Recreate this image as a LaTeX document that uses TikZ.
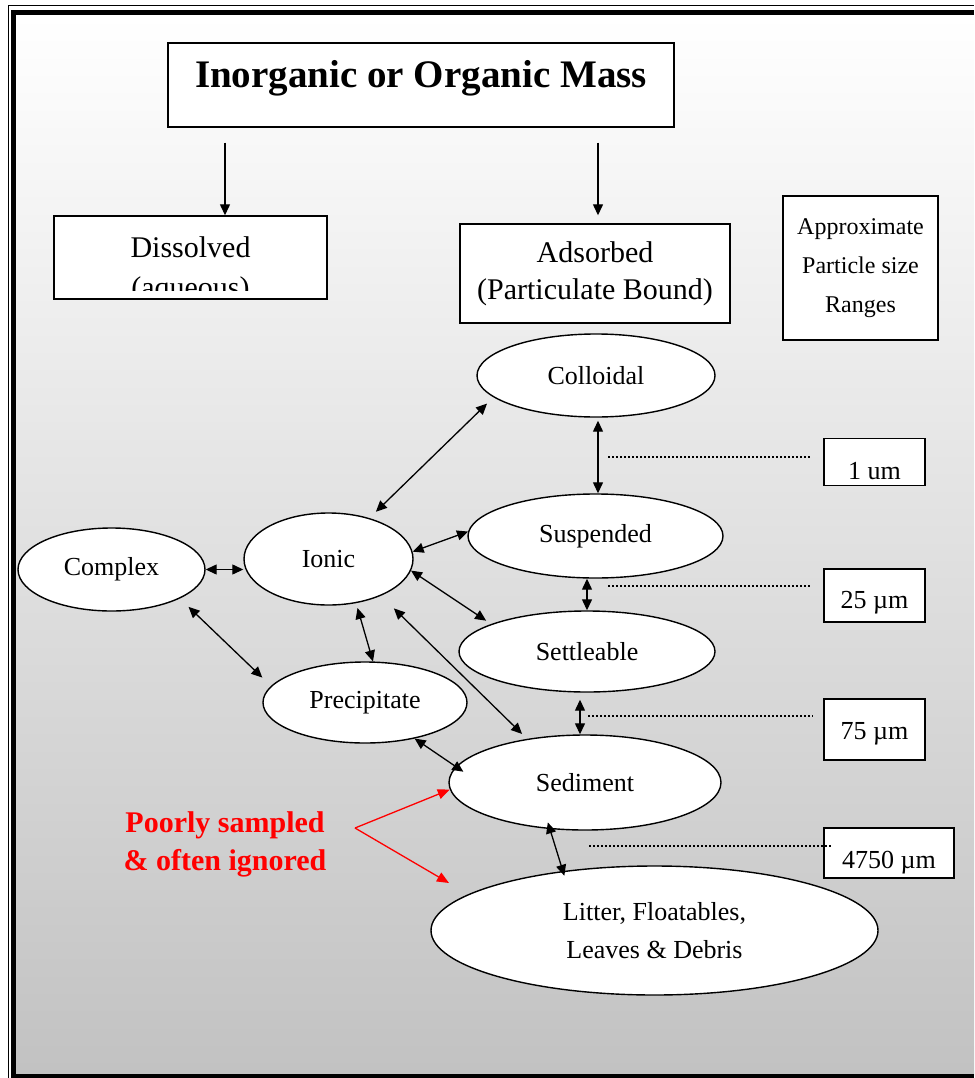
\documentclass[tikz,border=0pt]{standalone}
\usepackage{fontspec}
\setmainfont{Liberation Serif}
\usetikzlibrary{arrows.meta,positioning,shapes.geometric}

\begin{document}
\begin{tikzpicture}[
  x=1pt, y=-1pt,
  box/.style={rectangle, draw, line width=1.4pt, fill=white, inner sep=0pt},
  blob/.style={ellipse, draw, line width=1.4pt, fill=white, inner sep=0pt, align=center, font=\fontsize{26}{38}\selectfont},
  tag/.style={anchor=base, inner sep=0pt, font=\fontsize{26}{32}\selectfont},
  link/.style={{Triangle[length=11pt,width=10pt]}-{Triangle[length=11pt,width=10pt]}, line width=1.3pt},
  feed/.style={-{Triangle[length=11pt,width=10pt]}, line width=1.3pt},
  hint/.style={-{Triangle[length=12pt,width=10pt]}, line width=1.3pt, red},
  gauge/.style={line width=2pt, dash pattern=on 2pt off 2pt}
]
  \useasboundingbox (0,0) rectangle (974,1078);

  % Page background and double frame
  \shade[top color=white, bottom color=black!24] (16,15) rectangle (974,1075);
  \draw[line width=1.3pt] (8.5,5.5) -- (974,5.5) (8.5,5.5) -- (8.5,1078);
  \draw[line width=5pt] (974,12.5) -- (13.5,12.5) -- (13.5,1076.5) -- (974,1076.5);

  % Top: mass and its two fractions
  \node[box, minimum width=506pt, minimum height=84pt, text height=26pt, text depth=21pt,
        font=\fontsize{39}{47}\selectfont\bfseries] (mass) at (421,85) {Inorganic or Organic Mass};
  \node[box, minimum width=273pt, minimum height=83pt] (dis) at (190.5,257.5) {};
  \node[tag, font=\fontsize{30}{37}\selectfont] (distxt) at (190.5,257) {Dissolved};
  \begin{scope}
    \clip (dis.north west) rectangle ([yshift=9pt]dis.south east);
    \node[tag, font=\fontsize{30}{37}\selectfont] (aqtxt) at (190.5,297) {(aqueous)};
  \end{scope}
  \node[box, minimum width=270pt, minimum height=99pt, align=center,
        font=\fontsize{30}{37}\selectfont] (ads) at (595,273.5) {Adsorbed\\(Particulate Bound)};
  \node[box, minimum width=155pt, minimum height=144pt, align=center,
        font=\fontsize{24}{39}\selectfont] (range) at (860.5,268) {Approximate\\Particle size\\Ranges};

  \draw[feed, shorten <=15pt] ([xshift=-196pt]mass.south) -- ([xshift=-196pt]mass.south |- dis.north);
  \draw[feed, shorten <=15pt, shorten >=8pt] ([xshift=177pt]mass.south) -- ([xshift=177pt]mass.south |- ads.north);

  % Phases
  \node[blob, minimum width=238pt, minimum height=83pt] (col) at (596,375.5) {Colloidal};
  \node[blob, minimum width=255pt, minimum height=84pt] (sus) at (595.5,536) {Suspended};
  \node[blob, minimum width=169pt, minimum height=92pt] (ion) at (328.5,559) {Ionic};
  \node[blob, minimum width=187pt, minimum height=83pt] (cpx) at (111.5,569.5) {Complex};
  \node[blob, minimum width=256pt, minimum height=81pt] (set) at (587,651.5) {Settleable};
  \node[blob, minimum width=204pt, minimum height=81pt] (pre) at (365,702.5) {Precipitate};
  \node[blob, minimum width=272pt, minimum height=95pt] (sed) at (585,782.5) {Sediment};
  \node[blob, minimum width=447pt, minimum height=129pt] (lit) at (654.5,930.5) {Litter, Floatables,\\Leaves \& Debris};

  % Size ranges
  \node[box, minimum width=101pt, minimum height=46.5pt] (um1) at (874.5,462) {};
  \node[tag] (um1txt) at ([yshift=6pt]um1.south) {1 um};
  \node[box, minimum width=101pt, minimum height=53pt] (um25) at (874.5,595.5) {};
  \node[tag] (um25txt) at ([yshift=14pt]um25.south) {25 µm};
  \node[box, minimum width=101pt, minimum height=61pt] (um75) at (874.5,729.5) {};
  \node[tag] (um75txt) at ([yshift=21pt]um75.south) {75 µm};
  \node[box, minimum width=130pt, minimum height=50pt] (um4750) at (889,853) {};
  \node[tag] (um4750txt) at ([yshift=10pt]um4750.south) {4750 µm};

  \coordinate (g1) at (608,457);
  \coordinate (g2) at (608,586);
  \coordinate (g3) at (588,716);
  \coordinate (g4) at (589,846);
  \draw[gauge, shorten >=12pt] (g1) -- (g1 -| um1.west);
  \draw[gauge, shorten >=12pt] (g2) -- (g2 -| um25.west);
  \draw[gauge, shorten >=10pt] (g3) -- (g3 -| um75.west);
  \draw[gauge, shorten >=-8pt] (g4) -- (g4 -| um4750.west);

  % Exchanges between phases
  \draw[link, shorten <=9pt, shorten >=9pt] (ion.45) -- (col.192);
  \draw[link, shorten <=3pt] ([xshift=2pt]col.south) -- ([xshift=2pt]col.south |- sus.north);
  \draw[link] (sus.south -| set.north) -- (set.north);
  \draw[link, shorten <=7pt] ([xshift=-7pt]set.south) -- ([xshift=-7pt]set.south |- sed.north);
  \draw[link, shorten <=-7pt, shorten >=-5pt] (sed.233) -- (lit.147);
  \draw[link] (ion.5) -- (sus.178);
  \draw[link, shorten >=6pt] (ion.-8) -- (set.164);
  \draw[link, shorten <=18pt, shorten >=7pt] (ion.-35) -- (sed.143);
  \draw[link] (cpx.east) -- (cpx.east -| ion.west);
  \draw[link, shorten <=12pt, shorten >=12pt] (cpx.-23) -- (pre.170);
  \draw[link, shorten <=5pt] (ion.-58) -- (pre.79);
  \draw[link, shorten >=-9pt] (pre.-36) -- (sed.173);

  % Note
  \node[align=center, text=red, font=\fontsize{30}{38}\selectfont\bfseries] (poorly) at (225,844) {Poorly sampled\\\& often ignored};
  \coordinate (fork) at (355,828);
  \coordinate (littip) at (449,883);
  \draw[hint] (fork) -- (sed.183);
  \draw[hint] (fork) -- (littip);
\end{tikzpicture}
\end{document}
